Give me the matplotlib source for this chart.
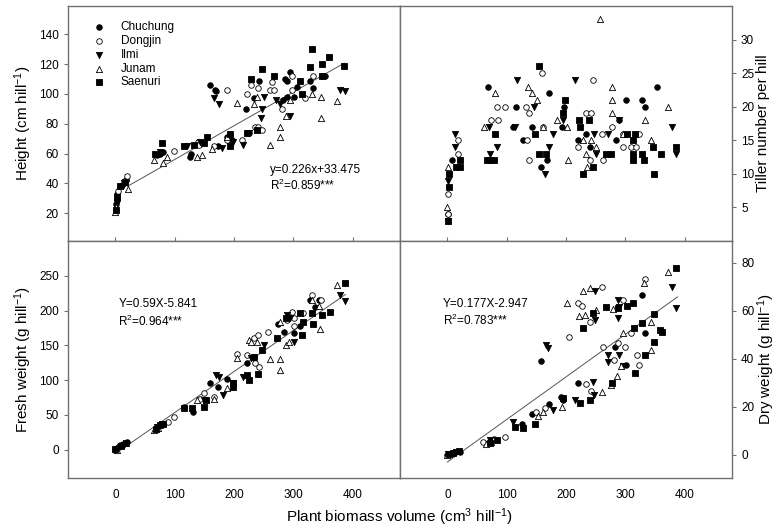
import matplotlib.pyplot as plt
import numpy as np

plt.rcParams["font.family"] = ["Liberation Sans", "DejaVu Sans"]
plt.rcParams["mathtext.default"] = "regular"

varieties = ["Chuchung", "Dongjin", "Ilmi", "Junam", "Saenuri"]

# ---- Height (cm hill-1) vs biomass volume ----
ht_chu_x = [1, 2, 3, 15, 18, 70, 76, 81, 125, 128, 159, 168, 169, 173, 188, 197, 221, 225, 234, 242, 283, 286, 289, 289, 295, 302, 306, 329, 334, 354]
ht_chu_y = [26, 30, 33, 40, 42, 59, 60, 61, 58, 60, 106, 103, 102, 65, 71, 69, 90, 74, 97, 109, 96, 110, 109, 98, 115, 98, 105, 109, 104, 112]
ht_don_x = [2, 4, 17, 20, 98, 140, 141, 166, 188, 188, 213, 222, 229, 236, 240, 240, 247, 260, 264, 267, 281, 298, 298, 320, 334, 348]
ht_don_y = [29, 35, 42, 45, 62, 68, 66, 65, 103, 69, 69, 100, 106, 78, 104, 78, 76, 103, 108, 103, 90, 112, 103, 97, 112, 112]
ht_ilm_x = [3, 12, 14, 76, 121, 143, 166, 174, 180, 199, 215, 225, 246, 247, 250, 271, 278, 295, 379, 387]
ht_ilm_y = [27, 38, 40, 61, 65, 68, 97, 93, 64, 68, 66, 74, 84, 90, 98, 96, 93, 85, 103, 102]
ht_jun_x = [0, 1, 22, 65, 81, 87, 138, 146, 163, 188, 205, 233, 239, 260, 278, 278, 287, 295, 331, 346, 346, 374]
ht_jun_y = [21, 24, 36, 56, 54, 58, 58, 59, 63, 71, 94, 93, 98, 66, 78, 71, 85, 96, 100, 98, 84, 95]
ht_sae_x = [1, 2, 8, 16, 67, 79, 115, 132, 149, 155, 194, 194, 222, 229, 239, 247, 267, 312, 315, 329, 332, 348, 348, 361, 385]
ht_sae_y = [22, 31, 38, 41, 60, 67, 65, 66, 67, 71, 73, 65, 74, 110, 76, 117, 112, 109, 100, 118, 130, 120, 112, 125, 119]

# ---- Tiller number per hill ----
ti_chu_x = [1, 7, 69, 111, 115, 128, 143, 157, 168, 171, 194, 196, 220, 234, 241, 285, 290, 302, 328, 334, 354]
ti_chu_y = [4, 12, 23, 17, 20, 15, 17, 11, 12, 22, 17, 20, 15, 16, 14, 15, 18, 21, 21, 20, 23]
ti_don_x = [1, 1, 18, 18, 73, 83, 85, 97, 132, 134, 138, 138, 160, 162, 220, 234, 240, 243, 245, 260, 263, 278, 296, 296, 310, 318, 323]
ti_don_y = [4, 7, 13, 15, 18, 20, 18, 20, 20, 15, 19, 12, 25, 17, 14, 19, 12, 19, 24, 16, 12, 17, 14, 16, 14, 14, 16]
ti_ilm_x = [1, 1, 12, 12, 70, 72, 83, 114, 118, 146, 165, 171, 178, 195, 215, 247, 251, 271, 290, 379, 385]
ti_ilm_y = [3, 9, 16, 14, 17, 13, 14, 17, 24, 20, 10, 14, 16, 18, 24, 16, 13, 16, 18, 17, 13]
ti_jun_x = [0, 1, 62, 80, 136, 143, 151, 162, 184, 201, 204, 228, 234, 235, 243, 251, 258, 278, 278, 278, 296, 333, 344, 372]
ti_jun_y = [5, 11, 17, 22, 23, 22, 21, 17, 18, 17, 12, 15, 13, 11, 15, 14, 33, 23, 21, 19, 16, 18, 15, 20]
ti_sae_x = [1, 3, 3, 15, 21, 21, 66, 71, 79, 80, 147, 154, 155, 167, 195, 199, 222, 224, 228, 239, 246, 268, 276, 303, 313, 313, 313, 317, 328, 332, 347, 348, 361, 385]
ti_sae_y = [3, 8, 10, 11, 11, 12, 12, 12, 12, 16, 16, 13, 26, 13, 19, 21, 18, 17, 10, 18, 11, 13, 13, 16, 15, 13, 12, 16, 13, 12, 14, 10, 13, 14]

# ---- Fresh weight (g hill-1) ----
fw_chu_x = [0, 5, 20, 70, 80, 115, 131, 159, 173, 188, 222, 234, 275, 284, 302, 312, 329, 337, 344]
fw_chu_y = [0, 3, 11, 33, 36, 61, 54, 95, 90, 101, 124, 133, 181, 169, 167, 177, 215, 205, 215]
fw_don_x = [8, 12, 76, 88, 98, 143, 149, 166, 205, 222, 233, 236, 241, 243, 258, 289, 298, 301, 301, 317, 331, 346]
fw_don_y = [6, 8, 35, 40, 47, 73, 81, 76, 138, 136, 160, 124, 165, 119, 169, 186, 198, 189, 177, 196, 222, 215]
fw_ilm_x = [3, 14, 70, 78, 149, 169, 174, 181, 199, 216, 228, 250, 289, 295, 301, 379, 388]
fw_ilm_y = [1, 6, 33, 37, 71, 107, 105, 78, 95, 105, 131, 150, 193, 189, 155, 222, 213]
fw_jun_x = [3, 65, 72, 138, 166, 188, 205, 225, 228, 239, 261, 278, 278, 278, 287, 292, 331, 344, 345, 374]
fw_jun_y = [0, 28, 31, 71, 72, 88, 131, 157, 154, 155, 130, 130, 115, 184, 150, 155, 215, 206, 174, 237]
fw_sae_x = [0, 9, 17, 68, 76, 81, 115, 129, 149, 153, 198, 199, 222, 225, 233, 240, 247, 272, 287, 312, 314, 317, 331, 334, 348, 362, 387]
fw_sae_y = [1, 5, 9, 30, 35, 37, 59, 59, 61, 71, 95, 90, 107, 100, 133, 109, 143, 160, 189, 196, 165, 184, 196, 181, 193, 198, 240]

# ---- Dry weight (g hill-1) ----
dw_chu_x = [0, 21, 71, 125, 143, 157, 171, 192, 195, 220, 282, 302, 328, 334]
dw_chu_y = [0, 1.4, 5.5, 13, 17, 39, 21, 24, 23, 30, 45, 37.5, 66.6, 50.6]
dw_don_x = [8, 60, 78, 97, 150, 164, 205, 220, 227, 234, 240, 243, 260, 262, 281, 287, 296, 299, 310, 319, 323, 333]
dw_don_y = [0.6, 5.5, 6.5, 7.6, 18, 19.4, 49, 63, 62, 29.5, 55.5, 26.4, 70, 45, 39.5, 46.5, 64.5, 45, 50.6, 41.6, 37.4, 73]
dw_ilm_x = [1, 15, 71, 111, 167, 170, 178, 215, 246, 247, 249, 249, 271, 271, 287, 287, 290, 290, 296, 379, 385]
dw_ilm_y = [0.4, 1.2, 6.2, 13.9, 45.8, 44.4, 18.7, 23, 30.5, 25, 68, 56, 41.6, 38.8, 64.5, 57, 61.7, 41.6, 36.8, 70, 61]
dw_jun_x = [0, 65, 74, 153, 161, 194, 202, 222, 228, 232, 241, 251, 260, 276, 279, 286, 292, 296, 331, 344, 344, 372]
dw_jun_y = [0, 4.5, 5.5, 16, 18, 20, 63, 57.6, 68.4, 58.3, 69.3, 60.3, 26, 29, 60.6, 33, 37, 50.6, 71.4, 55.5, 43.7, 76.3]
dw_sae_x = [2, 10, 20, 71, 83, 114, 128, 147, 195, 224, 228, 240, 246, 268, 278, 288, 303, 313, 314, 317, 328, 333, 348, 348, 358, 362, 385]
dw_sae_y = [0.2, 1, 1.6, 5, 6.2, 11.8, 11, 13, 23.6, 21.5, 52.7, 23, 59, 61.4, 30, 61.3, 62, 63.4, 53, 34, 55, 41.6, 58.5, 47, 52, 51.3, 77.7]

markers = {"Chuchung": ("o", "k"), "Dongjin": ("o", "white"),
           "Ilmi": ("v", "k"), "Junam": ("^", "white"), "Saenuri": ("s", "k")}

fig = plt.figure(figsize=(7.8, 5.29), dpi=100)
W, H = 780, 529


def add_ax(x0, x1, ytop, ybot):
    return fig.add_axes([x0 / W, 1 - ybot / H, (x1 - x0) / W, (ybot - ytop) / H])


ax_ht = add_ax(68, 400, 6, 241)
ax_ti = add_ax(400, 732, 6, 241)
ax_fw = add_ax(68, 400, 241, 478)
ax_dw = add_ax(400, 732, 241, 478)

panels = [
    (ax_ht, [ht_chu_x, ht_don_x, ht_ilm_x, ht_jun_x, ht_sae_x], [ht_chu_y, ht_don_y, ht_ilm_y, ht_jun_y, ht_sae_y]),
    (ax_ti, [ti_chu_x, ti_don_x, ti_ilm_x, ti_jun_x, ti_sae_x], [ti_chu_y, ti_don_y, ti_ilm_y, ti_jun_y, ti_sae_y]),
    (ax_fw, [fw_chu_x, fw_don_x, fw_ilm_x, fw_jun_x, fw_sae_x], [fw_chu_y, fw_don_y, fw_ilm_y, fw_jun_y, fw_sae_y]),
    (ax_dw, [dw_chu_x, dw_don_x, dw_ilm_x, dw_jun_x, dw_sae_x], [dw_chu_y, dw_don_y, dw_ilm_y, dw_jun_y, dw_sae_y]),
]

for ax, xs, ys in panels:
    for name, x, y in zip(varieties, xs, ys):
        m, fc = markers[name]
        sz = 20 if m in ("v", "^") else 16
        ax.scatter(x, y, marker=m, s=sz, facecolor=fc, edgecolor="k", linewidth=0.6, label=name, zorder=3)
    ax.set_xlim(-80, 480)
    for sp in ax.spines.values():
        sp.set_color("#707070")
        sp.set_linewidth(1.0)
    ax.tick_params(colors="#707070", labelcolor="k", labelsize=8.5, width=0.8, length=3)

# regression lines
xl = np.array([20, 386])
ax_ht.plot(xl, 0.226 * xl + 33.475, color="#555555", lw=0.7, zorder=2)
xl = np.array([0, 388])
ax_fw.plot(xl, 0.59 * xl - 5.841, color="#555555", lw=0.7, zorder=2)
ax_dw.plot(xl, 0.177 * xl - 2.947, color="#555555", lw=0.7, zorder=2)

# axis limits and ticks
ax_ht.set_ylim(1.4, 159)
ax_ht.set_yticks([20, 40, 60, 80, 100, 120, 140])
ax_ti.set_ylim(0, 35)
ax_ti.set_yticks([5, 10, 15, 20, 25, 30])
ax_fw.set_ylim(-41, 300)
ax_fw.set_yticks([0, 50, 100, 150, 200, 250])
ax_dw.set_ylim(-9.6, 89)
ax_dw.set_yticks([0, 20, 40, 60, 80])

for ax in (ax_ht, ax_ti):
    ax.set_xticks([0, 100, 200, 300, 400])
    ax.tick_params(axis="x", direction="in", labelbottom=False)
for ax in (ax_fw, ax_dw):
    ax.set_xticks([0, 100, 200, 300, 400])
    ax.tick_params(axis="x", length=0, pad=8)

for ax in (ax_ht, ax_fw):
    ax.tick_params(axis="y", direction="out")
for ax in (ax_ti, ax_dw):
    ax.yaxis.tick_right()
    ax.yaxis.set_label_position("right")
    ax.tick_params(axis="y", direction="out")

ax_ht.set_ylabel("Height (cm hill$^{-1}$)", fontsize=11)
ax_fw.set_ylabel("Fresh weight (g hill$^{-1}$)", fontsize=11)
ax_ti.set_ylabel("Tiller number per hill", fontsize=11, rotation=90, labelpad=1)
ax_dw.set_ylabel("Dry weight (g hill$^{-1}$)", fontsize=11, rotation=90, labelpad=1)
fig.text(400 / W, 1 - 517 / H, "Plant biomass volume (cm$^3$ hill$^{-1}$)", ha="center", va="center", fontsize=11)

# equations
ax_ht.text(261, 49, "y=0.226x+33.475", fontsize=8.5, va="center")
ax_ht.text(261, 39, "R$^2$=0.859***", fontsize=8.5, va="center")
ax_fw.text(5, 209, "Y=0.59X-5.841", fontsize=8.5, va="center")
ax_fw.text(5, 185, "R$^2$=0.964***", fontsize=8.5, va="center")
ax_dw.text(-8, 62.7, "Y=0.177X-2.947", fontsize=8.5, va="center")
ax_dw.text(-8, 55.8, "R$^2$=0.783***", fontsize=8.5, va="center")

ax_ht.legend(loc="upper left", bbox_to_anchor=(0.045, 0.955), frameon=False, fontsize=8.5,
             handletextpad=0.8, labelspacing=0.15, borderaxespad=0)

fig.savefig("out.png", dpi=100)
